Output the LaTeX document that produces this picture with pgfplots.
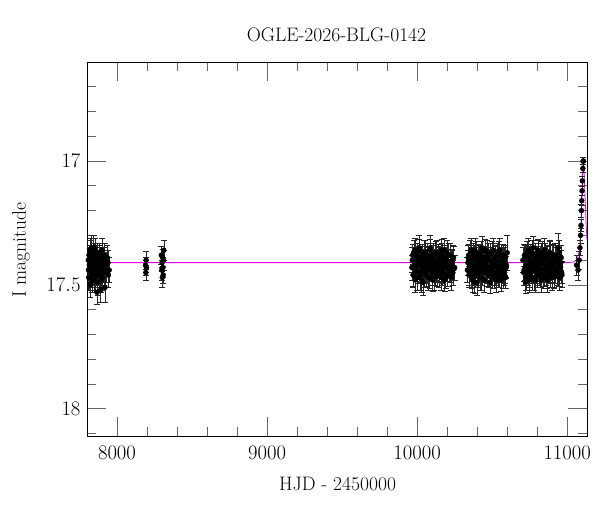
\documentclass[border=0pt]{standalone}
\usepackage{pgfplots}
\pgfplotsset{compat=1.18}
\usepackage{pgfplotstable}
\definecolor{model}{RGB}{225,0,225}
\pgfplotstableread[row sep=\\]{
x y e\\
7810 17.44 0.05\\ 7813 17.38 0.04\\ 7816 17.47 0.05\\ 7818 17.41 0.04\\ 7820 17.36 0.05\\
7822 17.50 0.05\\ 7824 17.43 0.04\\ 7826 17.39 0.04\\ 7828 17.45 0.05\\ 7830 17.35 0.05\\
7832 17.42 0.04\\ 7835 17.48 0.05\\ 7837 17.40 0.04\\ 7839 17.37 0.04\\ 7841 17.44 0.05\\
7843 17.46 0.04\\ 7846 17.38 0.05\\ 7848 17.41 0.04\\ 7850 17.43 0.04\\ 7852 17.36 0.05\\
7855 17.47 0.05\\ 7857 17.40 0.04\\ 7860 17.42 0.04\\ 7862 17.39 0.05\\ 7865 17.45 0.04\\
7868 17.37 0.04\\ 7870 17.49 0.05\\ 7873 17.41 0.04\\ 7876 17.44 0.05\\ 7879 17.38 0.04\\
7882 17.46 0.05\\ 7885 17.40 0.04\\ 7888 17.43 0.04\\ 7891 17.52 0.05\\ 7894 17.39 0.04\\
7897 17.44 0.05\\ 7900 17.36 0.05\\ 7904 17.47 0.05\\ 7908 17.42 0.04\\ 7912 17.40 0.05\\
7916 17.45 0.05\\ 7920 17.51 0.06\\ 7925 17.41 0.04\\ 7930 17.44 0.05\\ 7936 17.39 0.05\\
7942 17.46 0.05\\
7809 17.40 0.05\\ 7811 17.47 0.05\\ 7815 17.42 0.04\\ 7819 17.50 0.05\\ 7823 17.37 0.05\\
7827 17.44 0.04\\ 7831 17.41 0.05\\ 7834 17.39 0.04\\ 7838 17.46 0.05\\ 7842 17.42 0.04\\
7845 17.35 0.05\\ 7849 17.48 0.05\\ 7853 17.43 0.04\\ 7858 17.38 0.05\\ 7863 17.41 0.04\\
7867 17.53 0.05\\ 7872 17.40 0.04\\ 7878 17.45 0.05\\ 7884 17.37 0.04\\ 7890 17.42 0.05\\
7896 17.48 0.05\\ 7902 17.40 0.04\\ 7910 17.44 0.05\\ 7918 17.38 0.05\\ 7928 17.42 0.04\\
7940 17.41 0.05\\ 7948 17.44 0.05\\
8190 17.42 0.03\\ 8192 17.45 0.03\\ 8194 17.40 0.035\\ 8196 17.43 0.03\\
8295 17.38 0.035\\ 8298 17.44 0.04\\ 8300 17.41 0.035\\ 8302 17.47 0.04\\ 8304 17.39 0.035\\
8306 17.43 0.04\\ 8308 17.46 0.035\\ 8310 17.40 0.04\\ 8312 17.36 0.04\\
}\seasonA
\pgfplotstableread[row sep=\\]{
x y e\\
9965 17.43 0.05\\ 9970 17.38 0.045\\ 9975 17.46 0.05\\ 9980 17.41 0.045\\ 9985 17.36 0.05\\
9990 17.44 0.045\\ 9995 17.40 0.05\\ 10000 17.47 0.05\\ 10005 17.39 0.045\\ 10010 17.42 0.05\\
10015 17.35 0.05\\ 10020 17.45 0.045\\ 10025 17.41 0.05\\ 10030 17.48 0.05\\ 10035 17.38 0.045\\
10040 17.43 0.05\\ 10045 17.40 0.045\\ 10050 17.46 0.05\\ 10055 17.37 0.05\\ 10060 17.42 0.045\\
10065 17.44 0.05\\ 10070 17.39 0.045\\ 10075 17.47 0.05\\ 10080 17.41 0.05\\ 10085 17.36 0.045\\
10090 17.43 0.05\\ 10095 17.40 0.045\\ 10100 17.45 0.05\\ 10105 17.38 0.05\\ 10110 17.42 0.045\\
10115 17.47 0.05\\ 10120 17.40 0.045\\ 10125 17.44 0.05\\ 10130 17.37 0.05\\ 10135 17.43 0.045\\
10140 17.41 0.05\\ 10145 17.46 0.05\\ 10150 17.39 0.045\\ 10155 17.42 0.05\\ 10160 17.44 0.045\\
10165 17.38 0.05\\ 10170 17.45 0.05\\ 10175 17.41 0.045\\ 10180 17.36 0.05\\ 10185 17.43 0.05\\
10190 17.47 0.045\\ 10195 17.40 0.05\\ 10200 17.42 0.045\\ 10210 17.38 0.05\\ 10220 17.44 0.05\\
10230 17.41 0.05\\ 10240 17.39 0.05\\ 10250 17.43 0.05\\
9968 17.40 0.05\\ 9973 17.46 0.045\\ 9978 17.37 0.05\\ 9983 17.43 0.045\\ 9988 17.48 0.05\\
9993 17.41 0.045\\ 9998 17.38 0.05\\ 10003 17.45 0.045\\ 10008 17.42 0.05\\ 10013 17.36 0.045\\
10018 17.47 0.05\\ 10023 17.40 0.045\\ 10028 17.44 0.05\\ 10033 17.39 0.045\\ 10038 17.49 0.05\\
10043 17.42 0.045\\ 10048 17.37 0.05\\ 10053 17.45 0.045\\ 10058 17.41 0.05\\ 10063 17.46 0.045\\
10068 17.38 0.05\\ 10073 17.43 0.045\\ 10078 17.40 0.05\\ 10083 17.47 0.045\\ 10088 17.35 0.05\\
10093 17.44 0.045\\ 10098 17.41 0.05\\ 10103 17.48 0.045\\ 10108 17.39 0.05\\ 10113 17.42 0.045\\
10118 17.45 0.05\\ 10123 17.37 0.045\\ 10128 17.43 0.05\\ 10133 17.46 0.045\\ 10138 17.40 0.05\\
10143 17.38 0.045\\ 10148 17.44 0.05\\ 10153 17.41 0.045\\ 10158 17.47 0.05\\ 10163 17.36 0.045\\
10168 17.42 0.05\\ 10173 17.45 0.045\\ 10178 17.39 0.05\\ 10183 17.48 0.045\\ 10188 17.40 0.05\\
10193 17.43 0.045\\ 10198 17.37 0.05\\ 10203 17.46 0.045\\ 10208 17.41 0.05\\ 10213 17.44 0.045\\
10218 17.38 0.05\\ 10223 17.42 0.045\\ 10228 17.47 0.05\\ 10233 17.40 0.045\\ 10238 17.45 0.05\\
10243 17.39 0.045\\ 10248 17.43 0.05\\
}\seasonB
\pgfplotstableread[row sep=\\]{
x y e\\
10335 17.44 0.05\\ 10340 17.39 0.05\\ 10345 17.46 0.05\\ 10350 17.42 0.045\\ 10355 17.37 0.05\\
10360 17.45 0.05\\ 10365 17.40 0.045\\ 10370 17.48 0.05\\ 10375 17.38 0.05\\ 10380 17.43 0.045\\
10385 17.36 0.05\\ 10390 17.46 0.05\\ 10395 17.41 0.045\\ 10400 17.49 0.05\\ 10405 17.39 0.05\\
10410 17.44 0.045\\ 10415 17.40 0.05\\ 10420 17.47 0.05\\ 10425 17.37 0.045\\ 10430 17.42 0.05\\
10435 17.45 0.05\\ 10440 17.39 0.045\\ 10445 17.48 0.05\\ 10450 17.41 0.05\\ 10455 17.36 0.045\\
10460 17.44 0.05\\ 10465 17.40 0.05\\ 10470 17.46 0.045\\ 10475 17.38 0.05\\ 10480 17.43 0.05\\
10485 17.49 0.045\\ 10490 17.40 0.05\\ 10495 17.45 0.05\\ 10500 17.37 0.045\\ 10505 17.43 0.05\\
10510 17.41 0.05\\ 10515 17.47 0.045\\ 10520 17.39 0.05\\ 10525 17.42 0.05\\ 10530 17.45 0.045\\
10535 17.38 0.05\\ 10540 17.46 0.05\\ 10545 17.41 0.045\\ 10550 17.36 0.05\\ 10555 17.44 0.05\\
10560 17.48 0.045\\ 10565 17.40 0.05\\ 10570 17.43 0.05\\ 10575 17.38 0.045\\ 10580 17.45 0.05\\
10585 17.41 0.05\\ 10590 17.47 0.045\\ 10595 17.42 0.05\\ 10600 17.37 0.07\\
10338 17.41 0.05\\ 10343 17.38 0.045\\ 10348 17.45 0.05\\ 10353 17.42 0.045\\ 10358 17.36 0.05\\
10363 17.47 0.045\\ 10368 17.40 0.05\\ 10373 17.44 0.045\\ 10378 17.39 0.05\\ 10383 17.49 0.045\\
10388 17.42 0.05\\ 10393 17.37 0.045\\ 10398 17.45 0.05\\ 10403 17.41 0.045\\ 10408 17.46 0.05\\
10413 17.38 0.045\\ 10418 17.43 0.05\\ 10423 17.40 0.045\\ 10428 17.47 0.05\\ 10433 17.35 0.045\\
10438 17.44 0.05\\ 10443 17.41 0.045\\ 10448 17.48 0.05\\ 10453 17.39 0.045\\ 10458 17.42 0.05\\
10463 17.45 0.045\\ 10468 17.37 0.05\\ 10473 17.43 0.045\\ 10478 17.46 0.05\\ 10483 17.40 0.045\\
10488 17.38 0.05\\ 10493 17.44 0.045\\ 10498 17.41 0.05\\ 10503 17.47 0.045\\ 10508 17.36 0.05\\
10513 17.42 0.045\\ 10518 17.45 0.05\\ 10523 17.39 0.045\\ 10528 17.48 0.05\\ 10533 17.40 0.045\\
10538 17.43 0.05\\ 10543 17.37 0.045\\ 10548 17.46 0.05\\ 10553 17.41 0.045\\ 10558 17.44 0.05\\
10563 17.38 0.045\\ 10568 17.42 0.05\\ 10573 17.47 0.045\\ 10578 17.40 0.05\\ 10583 17.45 0.045\\
10588 17.39 0.05\\ 10593 17.43 0.045\\
}\seasonC
\pgfplotstableread[row sep=\\]{
x y e\\
10705 17.40 0.05\\ 10710 17.45 0.05\\ 10715 17.38 0.045\\ 10720 17.43 0.05\\ 10725 17.47 0.05\\
10730 17.39 0.045\\ 10735 17.44 0.05\\ 10740 17.36 0.05\\ 10745 17.42 0.045\\ 10750 17.48 0.05\\
10755 17.40 0.05\\ 10760 17.45 0.045\\ 10765 17.37 0.05\\ 10770 17.43 0.05\\ 10775 17.41 0.045\\
10780 17.47 0.05\\ 10785 17.38 0.05\\ 10790 17.44 0.045\\ 10795 17.40 0.05\\ 10800 17.46 0.05\\
10805 17.36 0.045\\ 10810 17.42 0.05\\ 10815 17.45 0.05\\ 10820 17.39 0.045\\ 10825 17.48 0.05\\
10830 17.41 0.05\\ 10835 17.37 0.045\\ 10840 17.44 0.05\\ 10845 17.40 0.05\\ 10850 17.46 0.045\\
10855 17.38 0.05\\ 10860 17.43 0.05\\ 10865 17.47 0.045\\ 10870 17.39 0.05\\ 10875 17.42 0.05\\
10880 17.45 0.045\\ 10885 17.37 0.05\\ 10890 17.44 0.05\\ 10895 17.41 0.045\\ 10900 17.47 0.05\\
10905 17.39 0.05\\ 10910 17.42 0.045\\ 10915 17.46 0.05\\ 10920 17.38 0.05\\ 10925 17.43 0.045\\
10930 17.40 0.05\\ 10935 17.45 0.05\\ 10940 17.35 0.06\\ 10945 17.41 0.05\\ 10950 17.47 0.05\\
10955 17.43 0.05\\ 10960 17.39 0.05\\ 10965 17.46 0.05\\
10708 17.40 0.05\\ 10713 17.44 0.045\\ 10718 17.39 0.05\\ 10723 17.49 0.045\\ 10728 17.42 0.05\\
10733 17.37 0.045\\ 10738 17.45 0.05\\ 10743 17.41 0.045\\ 10748 17.46 0.05\\ 10753 17.38 0.045\\
10758 17.43 0.05\\ 10763 17.40 0.045\\ 10768 17.47 0.05\\ 10773 17.35 0.045\\ 10778 17.44 0.05\\
10783 17.41 0.045\\ 10788 17.48 0.05\\ 10793 17.39 0.045\\ 10798 17.42 0.05\\ 10803 17.45 0.045\\
10808 17.37 0.05\\ 10813 17.43 0.045\\ 10818 17.46 0.05\\ 10823 17.40 0.045\\ 10828 17.38 0.05\\
10833 17.44 0.045\\ 10838 17.41 0.05\\ 10843 17.47 0.045\\ 10848 17.36 0.05\\ 10853 17.42 0.045\\
10858 17.45 0.05\\ 10863 17.39 0.045\\ 10868 17.48 0.05\\ 10873 17.40 0.045\\ 10878 17.43 0.05\\
10883 17.37 0.045\\ 10888 17.46 0.05\\ 10893 17.41 0.045\\ 10898 17.44 0.05\\ 10903 17.38 0.045\\
10908 17.42 0.05\\ 10913 17.47 0.045\\ 10918 17.40 0.05\\ 10923 17.45 0.045\\ 10928 17.39 0.05\\
10933 17.43 0.045\\ 10938 17.40 0.05\\ 10943 17.46 0.045\\ 10948 17.37 0.05\\ 10953 17.43 0.045\\
10958 17.41 0.05\\ 10963 17.45 0.045\\
}\seasonD
\pgfplotstableread[row sep=\\]{
x y e\\
11062 17.42 0.04\\ 11072 17.44 0.04\\ 11080 17.40 0.035\\ 11085 17.35 0.03\\ 11089 17.30 0.03\\
11092 17.26 0.025\\ 11095 17.20 0.025\\ 11097 17.16 0.02\\ 11099 17.12 0.02\\ 11101 17.08 0.02\\
11104 17.03 0.015\\ 11106 17.00 0.015\\ 11108 17.00 0.015\\
}\seasonE
\pgfplotstableread[row sep=\\]{
x y\\
7800 17.41\\ 11000 17.41\\ 11040 17.408\\ 11060 17.40\\ 11070 17.39\\ 11078 17.37\\
11085 17.33\\ 11090 17.29\\ 11094 17.22\\ 11098 17.14\\ 11102 17.06\\ 11105 17.01\\
11107 17.00\\ 11110 17.02\\ 11115 17.08\\ 11120 17.16\\ 11126 17.25\\ 11132 17.32\\
}\model
\pgfplotsset{phot/.style={black, only marks, mark=*, mark size=2.5bp,
  error bars/.cd, y dir=both, y explicit,
  error bar style={black!85, line width=0.6pt},
  error mark options={black!85, rotate=90, mark size=3bp, line width=0.6pt}}}
\newcommand\fs{\fontsize{19.6}{23}\selectfont}
\begin{document}
\begin{tikzpicture}
\useasboundingbox (0,0) rectangle (600bp,512bp);
\begin{axis}[
  at={(87bp,76bp)}, anchor=south west,
  width=500bp, height=374bp, scale only axis,
  xmin=7800, xmax=11132, ymin=16.6, ymax=18.11,
  y dir=reverse,
  xtick={8000,9000,10000,11000},
  minor xtick={7800,8200,8400,8600,8800,9200,9400,9600,9800,10200,10400,10600,10800},
  ytick={17,17.5,18},
  minor ytick={16.6,16.7,16.8,16.9,17.1,17.2,17.3,17.4,17.6,17.7,17.8,17.9,18.1},
  major tick length=19bp, minor tick length=9bp,
  every tick/.style={draw=black!60, line width=0.8pt},
  axis line style={line width=0.9pt},
  scaled x ticks=false,
  xticklabel={\pgfmathprintnumber[fixed,1000 sep={}]{\tick}},
  ticklabel style={font=\fs},
  xticklabel style={yshift=-7bp},
  yticklabel style={xshift=-3bp},
  clip=true,
]
\addplot[model, line width=0.8pt] table {\model};
\addplot[phot] table[x=x, y=y, y error=e] {\seasonA};
\addplot[phot] table[x=x, y=y, y error=e] {\seasonB};
\addplot[phot] table[x=x, y=y, y error=e] {\seasonC};
\addplot[phot] table[x=x, y=y, y error=e] {\seasonD};
\addplot[phot] table[x=x, y=y, y error=e] {\seasonE};
\end{axis}
\node[font=\fs] at (336.5bp,477.3bp) {OGLE-2026-BLG-0142};
\node[font=\fs] at (337.5bp,27.7bp) {HJD - 2450000};
\node[font=\fs, rotate=90] at (21bp,262bp) {I magnitude};
\end{tikzpicture}
\end{document}
